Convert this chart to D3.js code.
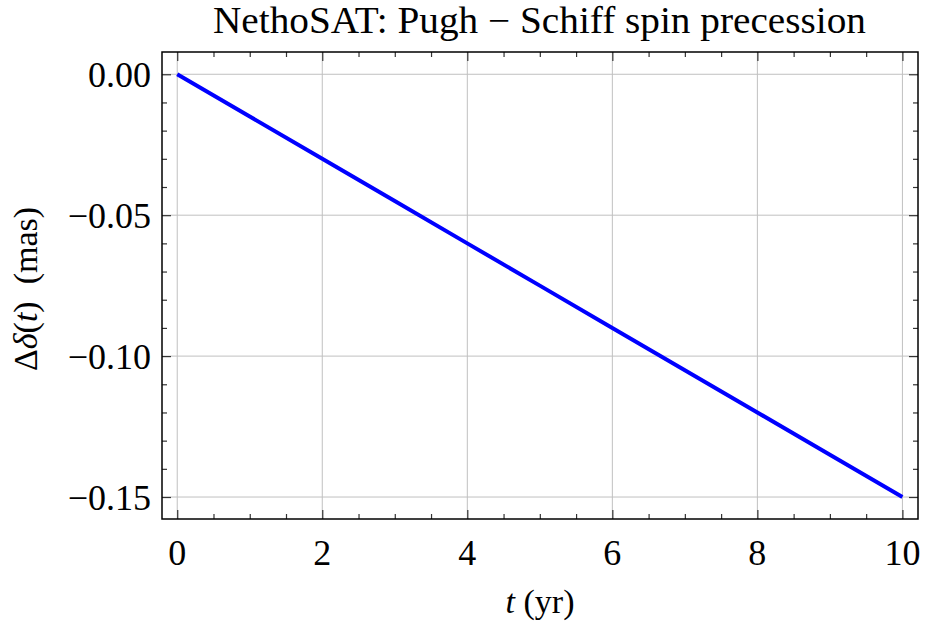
<!DOCTYPE html>
<html>
<head>
<meta charset="utf-8">
<script src="https://cdn.jsdelivr.net/npm/d3@7"></script>
<style>
  body { margin: 0; background: #fff; }
  svg { display: block; font-family: "Liberation Serif", "DejaVu Serif", serif; }
</style>
</head>
<body>
<svg></svg>
<script>
const width = 926;
const height = 631;

// t (yr) and delta (mas)
const years = [0, 1, 2, 3, 4, 5, 6, 7, 8, 9, 10];
const delta = [0, -0.015, -0.03, -0.045, -0.06, -0.075, -0.09, -0.105, -0.12, -0.135, -0.15];

const xTicks = [0, 2, 4, 6, 8, 10];
const yTicks = [0, -0.05, -0.1, -0.15];
const yTickLabels = ["0.00", "\u22120.05", "\u22120.10", "\u22120.15"];

const frame = { left: 162, right: 918, top: 52, bottom: 519 };

const svg = d3.select("svg").attr("width", width).attr("height", height);

const x = d3.scaleLinear().domain([-0.21, 10.215]).range([frame.left, frame.right]);
const y = d3.scaleLinear().domain([0.0079, -0.1578]).range([frame.top, frame.bottom]);

// grid
const grid = svg.append("g").attr("stroke", "#c0c0c0").attr("stroke-width", 1);
grid.selectAll("line.gx").data(xTicks).enter().append("line")
  .attr("x1", (d) => x(d)).attr("x2", (d) => x(d))
  .attr("y1", frame.top).attr("y2", frame.bottom);
grid.selectAll("line.gy").data(yTicks).enter().append("line")
  .attr("y1", (d) => y(d)).attr("y2", (d) => y(d))
  .attr("x1", frame.left).attr("x2", frame.right);

// ticks on all four sides
const xMinor = d3.range(0, 10.01, 0.5).filter((v) => xTicks.indexOf(v) < 0);
const yMinor = d3.range(0, -0.1501, -0.01).filter((v) => !yTicks.some((t) => Math.abs(t - v) < 1e-9));

svg.append("g").attr("transform", `translate(0,${frame.bottom})`)
  .call(d3.axisBottom(x).tickValues(xTicks).tickSize(-9).tickFormat(""));
svg.append("g").attr("transform", `translate(0,${frame.bottom})`)
  .call(d3.axisBottom(x).tickValues(xMinor).tickSize(-5).tickFormat(""));
svg.append("g").attr("transform", `translate(0,${frame.top})`)
  .call(d3.axisTop(x).tickValues(xTicks).tickSize(-9).tickFormat(""));
svg.append("g").attr("transform", `translate(0,${frame.top})`)
  .call(d3.axisTop(x).tickValues(xMinor).tickSize(-5).tickFormat(""));
svg.append("g").attr("transform", `translate(${frame.left},0)`)
  .call(d3.axisLeft(y).tickValues(yTicks).tickSize(-9).tickFormat(""));
svg.append("g").attr("transform", `translate(${frame.left},0)`)
  .call(d3.axisLeft(y).tickValues(yMinor).tickSize(-5).tickFormat(""));
svg.append("g").attr("transform", `translate(${frame.right},0)`)
  .call(d3.axisRight(y).tickValues(yTicks).tickSize(-9).tickFormat(""));
svg.append("g").attr("transform", `translate(${frame.right},0)`)
  .call(d3.axisRight(y).tickValues(yMinor).tickSize(-5).tickFormat(""));

svg.selectAll(".domain").remove();
svg.selectAll(".tick line").attr("stroke", "#333").attr("stroke-width", 1.2);

// tick labels
svg.append("g").selectAll("text").data(xTicks).enter().append("text")
  .attr("x", (d) => x(d)).attr("y", 565)
  .attr("text-anchor", "middle").attr("font-size", 36).attr("fill", "#000")
  .text((d) => d);
svg.append("g").selectAll("text").data(yTicks).enter().append("text")
  .attr("x", 151).attr("y", (d) => y(d) + 12.5)
  .attr("text-anchor", "end").attr("font-size", 36).attr("fill", "#000")
  .text((d, i) => yTickLabels[i]);

// frame
svg.append("rect")
  .attr("x", frame.left).attr("y", frame.top)
  .attr("width", frame.right - frame.left).attr("height", frame.bottom - frame.top)
  .attr("fill", "none").attr("stroke", "#000").attr("stroke-width", 1.5);

// data line
const line = d3.line().x((d, i) => x(years[i])).y((d) => y(d));
svg.append("path").datum(delta)
  .attr("d", line).attr("fill", "none")
  .attr("stroke", "#0000ff").attr("stroke-width", 4);

// title & axis labels
svg.append("text").attr("x", 539.5).attr("y", 33)
  .attr("text-anchor", "middle").attr("font-size", 37).attr("fill", "#000")
  .attr("textLength", 653).attr("lengthAdjust", "spacingAndGlyphs")
  .text("NethoSAT: Pugh \u2212 Schiff spin precession");

const xl = svg.append("text").attr("x", 540).attr("y", 613)
  .attr("text-anchor", "middle").attr("font-size", 34).attr("fill", "#000");
xl.append("tspan").attr("font-style", "italic").text("t");
xl.append("tspan").text(" (yr)");

const yl = svg.append("text").attr("transform", "translate(37,289) rotate(-90)")
  .attr("text-anchor", "middle").attr("font-size", 34).attr("fill", "#000");
yl.append("tspan").text("\u0394");
yl.append("tspan").attr("font-style", "italic").text("\u03b4");
yl.append("tspan").text("(");
yl.append("tspan").attr("font-style", "italic").text("t");
yl.append("tspan").text(")\u00a0\u00a0(mas)");
</script>
</body>
</html>
